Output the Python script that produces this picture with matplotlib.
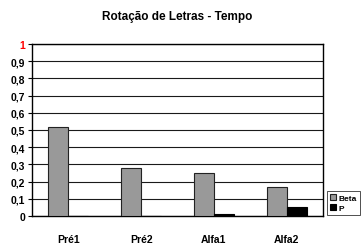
import matplotlib

matplotlib.use("Agg")
import matplotlib.pyplot as plt
import numpy as np

categories = ["Pré1", "Pré2", "Alfa1", "Alfa2"]
beta = [0.52, 0.28, 0.25, 0.17]
p_vals = [0.0, 0.0, 0.01, 0.05]
yticks = [0, 0.1, 0.2, 0.3, 0.4, 0.5, 0.6, 0.7, 0.8, 0.9, 1]
ytick_labels = ["0", "0,1", "0,2", "0,3", "0,4", "0,5", "0,6", "0,7", "0,8", "0,9", "1"]

plt.rcParams["font.family"] = ["Liberation Sans", "DejaVu Sans"]
plt.rcParams["font.weight"] = "bold"

fig = plt.figure(figsize=(3.62, 2.51), dpi=100)
ax = fig.add_axes([32 / 362, 1 - 217 / 251, 291 / 362, 172 / 251])

x = np.arange(len(categories))
w = 0.275
ax.bar(x - w / 2, beta, w, color="#999999", edgecolor="#222222", linewidth=0.8, label="Beta", zorder=3)
ax.bar(x + w / 2, p_vals, w, color="black", edgecolor="black", linewidth=0.8, label="P", zorder=3)

ax.set_xlim(-0.5, len(categories) - 0.5)
ax.set_ylim(0, 1)
ax.set_yticks(yticks)
ax.set_yticklabels(ytick_labels, fontsize=7.5, fontweight="bold")
ax.get_yticklabels()[-1].set_color("red")
ax.set_xticks(x)
ax.set_xticklabels(categories, fontsize=7.5, fontweight="bold")
ax.tick_params(axis="x", length=0, pad=13)
ax.tick_params(axis="y", length=3, pad=2, width=0.8)
ax.yaxis.grid(True, color="#1a1a1a", linewidth=0.8, zorder=0)
for s in ax.spines.values():
    s.set_linewidth(1.0)
    s.set_color("black")

ax.set_title("Rotação de Letras - Tempo", fontsize=8.5, fontweight="bold", pad=18)

leg = fig.legend(loc="upper left", bbox_to_anchor=(327 / 362, 1 - 192 / 251),
                 fontsize=6, frameon=True, fancybox=False, handlelength=0.7,
                 handleheight=0.7, handletextpad=0.3, borderpad=0.35, labelspacing=0.3,
                 borderaxespad=0)
leg.get_frame().set_edgecolor("black")
leg.get_frame().set_linewidth(0.6)

fig.savefig("out.png", dpi=100)
